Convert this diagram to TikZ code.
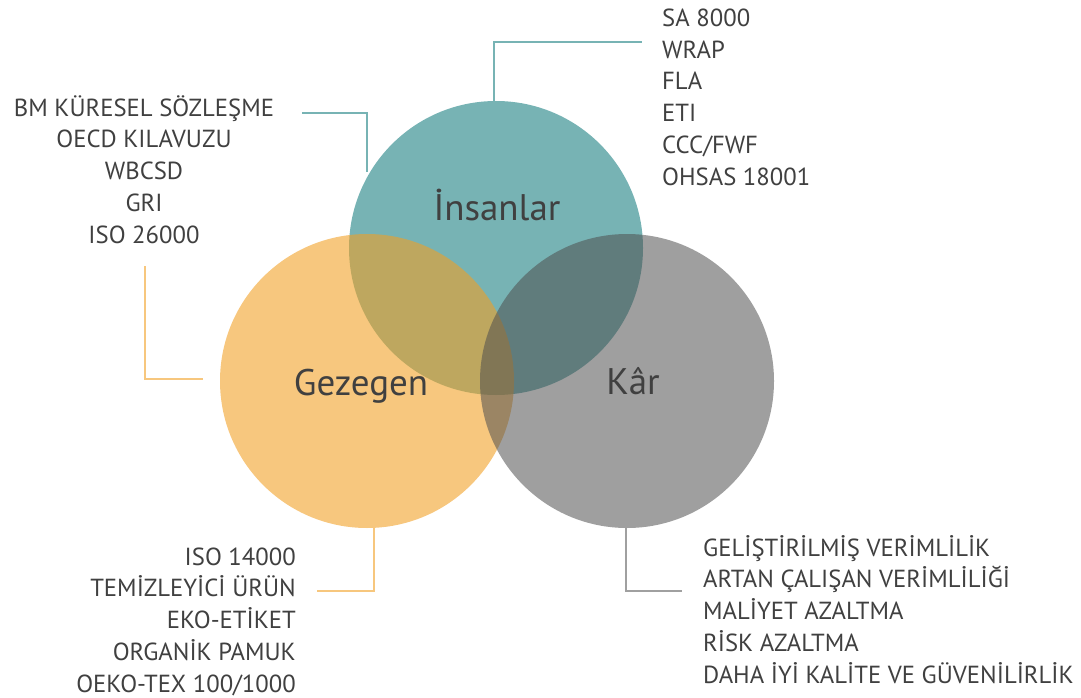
\documentclass[tikz,border=0pt]{standalone}
\usepackage{fontspec}
\setmainfont{PT Sans}
\definecolor{peoplecol}{RGB}{119,179,180}
\definecolor{planetcol}{RGB}{241,160,36}
\definecolor{profitcol}{RGB}{78,78,78}
\definecolor{planetline}{RGB}{247,199,126}
\definecolor{profitline}{RGB}{160,160,160}
\definecolor{inkcol}{RGB}{64,64,64}
\begin{document}
\begin{tikzpicture}[x=1pt,y=-1pt,
  listtext/.style={inner sep=0pt,text=inkcol,font=\fontsize{24.7}{31.7}\selectfont},
  bigtext/.style={inner sep=0pt,text=inkcol,font=\fontsize{37}{42}\selectfont,anchor=base},
  leader/.style={line width=2.4pt}]
\useasboundingbox (0,0) rectangle (1081,698);

% the three circles
\fill[peoplecol] (496,248) circle[radius=147];
\fill[planetcol,fill opacity=0.59] (367,381) circle[radius=147];
\fill[profitcol,fill opacity=0.54] (627,381) circle[radius=147];

\node[bigtext] (people) at (497,220) {İnsanlar};
\node[bigtext] (planet) at (361,395) {Gezegen};
\node[bigtext] (profit) at (633,394) {Kâr};

% lists of standards and gains (anchored at the baseline of the last line)
\node[listtext,align=center,anchor=base] (tl) at (144,243)
  {BM KÜRESEL SÖZLEŞME\\OECD KILAVUZU\\WBCSD\\GRI\\ISO 26000};
\node[listtext,align=left,anchor=base west] (tr) at (662,185)
  {SA 8000\\WRAP\\FLA\\ETI\\CCC/FWF\\OHSAS 18001};
\node[listtext,align=right,anchor=base east] (bl) at (296,692)
  {ISO 14000\\TEMİZLEYİCİ ÜRÜN\\EKO-ETİKET\\ORGANİK PAMUK\\OEKO-TEX 100/1000};
\node[listtext,align=left,anchor=base west] (br) at (703,683)
  {GELİŞTİRİLMİŞ VERİMLİLİK\\ARTAN ÇALIŞAN VERİMLİLİĞİ\\MALİYET AZALTMA\\RİSK AZALTMA\\DAHA İYİ KALİTE VE GÜVENİLİRLİK};

% leader lines
\coordinate (a1) at (494,101);
\coordinate (a2) at (494,42);
\coordinate (a3) at (642,42);
\draw[leader,peoplecol] (a1) -- (a2) -- (a3);
\coordinate (b1) at (302,113);
\coordinate (b2) at (367,113);
\coordinate (b3) at (367,172);
\draw[leader,peoplecol] (b1) -- (b2) -- (b3);
\coordinate (c1) at (145,266);
\coordinate (c2) at (145,379);
\coordinate (c3) at (203,379);
\draw[leader,planetline] (c1) -- (c2) -- (c3);
\coordinate (d1) at (374,528);
\coordinate (d2) at (374,591);
\coordinate (d3) at (317,591);
\draw[leader,planetline] (d1) -- (d2) -- (d3);
\coordinate (e1) at (626,528);
\coordinate (e2) at (626,591);
\coordinate (e3) at (682,591);
\draw[leader,profitline] (e1) -- (e2) -- (e3);
\end{tikzpicture}
\end{document}
